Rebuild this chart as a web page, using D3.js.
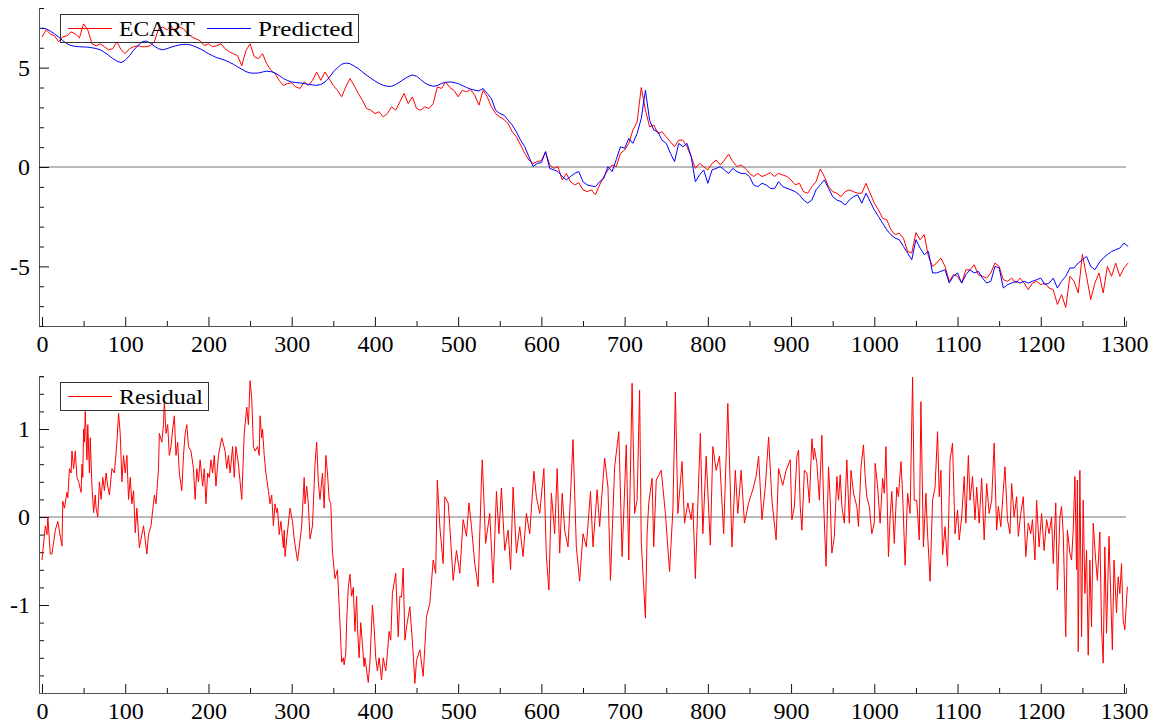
<!DOCTYPE html>
<html>
<head>
<meta charset="utf-8">
<script src="https://cdn.jsdelivr.net/npm/d3@7"></script>
<style>
    body { margin: 0; background: #fff; }
</style>
</head>
<body>
<div id="chart"></div>
<script>
/*
two stacked panels: ECART vs Predicted, and the Residual below
 */

//x positions of the top series (one reading every 5 steps):
var topT = d3.range(0, 1306, 5);

//ECART
var ecart = [
    6.54, 6.9, 6.7, 6.6, 6.3, 6.55, 6.6, 6.8, 6.7, 6.5,
    7.2, 6.9, 6.2, 6.1, 6.2, 6.05, 5.9, 5.95, 6.3, 5.9,
    5.7, 5.95, 6.05, 6.1, 6.05, 6.05, 6.1, 6.3, 6.95, 7.05,
    6.9, 7.1, 6.8, 7.05, 6.95, 6.7, 6.55, 6.45, 6.35, 6.1,
    6.2, 6.05, 6.1, 6.2, 5.95, 5.8, 5.7, 5.6, 5.1, 5.85,
    6.2, 5.55, 5.45, 5.7, 5.2, 4.87, 4.7, 4.36, 4.1, 4.2,
    4.23, 4.03, 3.95, 4.28, 4.1, 4.36, 4.78, 4.36, 4.78, 4.45,
    4.1, 3.86, 3.53, 4.03, 4.45, 4.1, 3.7, 3.36, 2.94, 2.86,
    2.69, 2.78, 2.52, 2.69, 3.03, 2.86, 3.28, 3.7, 3.19, 3.53,
    2.94, 2.86, 3.03, 2.94, 3.19, 4.03, 3.95, 4.28, 4.0, 3.86,
    3.53, 3.86, 3.78, 3.9, 3.61, 3.11, 3.86, 3.53, 3.03, 2.69,
    2.52, 2.39, 2.19, 1.77, 1.52, 1.1, 0.69, 0.35, 0.18, 0.27,
    0.32, 0.77, 0.1, -0.07, 0.02, -0.65, -0.32, -0.74, -0.9, -0.79,
    -1.15, -1.24, -1.15, -1.4, -0.9, -0.48, -0.15, 0.1, 0.02, 0.69,
    0.85, 1.19, 1.86, 2.27, 4.0, 2.86, 2.02, 2.11, 1.69, 1.77,
    1.52, 1.27, 1.02, 1.35, 1.35, 1.02, 0.52, -0.07, 0.18, 0.02,
    -0.15, 0.18, 0.35, 0.1, 0.35, 0.65, 0.27, 0.02, 0.1, -0.07,
    -0.32, -0.48, -0.32, -0.48, -0.4, -0.28, -0.48, -0.32, -0.4, -0.48,
    -0.65, -0.9, -0.82, -1.24, -1.32, -0.99, -0.74, -0.1, -0.48, -0.99,
    -1.24, -1.32, -1.49, -1.24, -1.15, -1.24, -1.32, -1.32, -0.82, -1.32,
    -1.82, -2.16, -2.58, -2.66, -3.16, -3.41, -3.33, -3.58, -4.25, -4.33,
    -3.3, -3.66, -3.4, -4.5, -5.0, -4.83, -4.58, -5.0, -5.75, -5.42,
    -5.5, -5.84, -5.17, -5.17, -4.92, -5.42, -5.5, -5.59, -5.33, -4.83,
    -5.0, -5.67, -5.75, -5.59, -5.84, -5.59, -5.84, -6.17, -5.84, -5.75,
    -5.92, -5.84, -6.09, -6.17, -6.92, -6.42, -7.07, -5.5, -5.75, -6.34,
    -4.4, -5.5, -6.67, -5.84, -5.33, -6.34, -5.0, -5.5, -4.83, -5.5,
    -5.08, -4.83
];

//Predicted, same x positions
var predicted = [
    6.99, 6.95, 6.84, 6.7, 6.54, 6.36, 6.2, 6.11, 6.07, 6.05,
    6.04, 6.03, 6.0, 5.96, 5.9, 5.77, 5.62, 5.46, 5.33, 5.25,
    5.37, 5.6, 5.87, 6.1, 6.29, 6.34, 6.24, 6.08, 5.95, 5.9,
    5.95, 6.03, 6.09, 6.14, 6.17, 6.17, 6.12, 6.04, 5.95, 5.83,
    5.7, 5.6, 5.5, 5.44, 5.37, 5.27, 5.17, 5.04, 4.92, 4.8,
    4.73, 4.72, 4.73, 4.78, 4.82, 4.8, 4.73, 4.6, 4.45, 4.35,
    4.28, 4.25, 4.23, 4.2, 4.16, 4.13, 4.11, 4.15, 4.28, 4.5,
    4.78, 5.0, 5.17, 5.23, 5.2, 5.08, 4.95, 4.78, 4.62, 4.47,
    4.33, 4.2, 4.11, 4.06, 4.06, 4.15, 4.28, 4.42, 4.55, 4.63,
    4.57, 4.4, 4.23, 4.12, 4.06, 4.1, 4.2, 4.26, 4.28, 4.25,
    4.2, 4.1, 4.0, 3.92, 3.86, 3.83, 3.95, 3.7, 3.44, 2.86,
    2.69, 2.61, 2.36, 2.11, 1.77, 1.35, 1.02, 0.52, 0.02, 0.18,
    0.22, 0.77, -0.07, -0.15, -0.23, -0.48, -0.65, -0.48, -0.32, -0.23,
    -0.74, -0.9, -0.95, -0.99, -0.74, -0.57, 0.02, -0.23, 0.38, 1.02,
    0.94, 1.44, 1.19, 1.69, 2.44, 3.86, 2.36, 1.86, 1.77, 1.35,
    1.19, 0.69, 0.27, 1.19, 1.02, 1.19, 0.52, -0.74, -0.4, -0.15,
    -0.82, -0.15, -0.07, 0.02, -0.15, -0.32, -0.07, -0.23, -0.32, -0.32,
    -0.48, -0.9, -0.99, -0.82, -0.9, -1.07, -1.1, -0.74, -0.99, -1.07,
    -1.15, -1.24, -1.4, -1.66, -1.82, -1.66, -1.15, -0.9, -0.65, -1.07,
    -1.49, -1.66, -1.74, -1.91, -1.66, -1.49, -1.4, -1.82, -1.32, -1.74,
    -2.16, -2.49, -2.83, -3.16, -3.41, -3.58, -3.66, -4.0, -4.33, -4.67,
    -3.66, -4.08, -4.41, -4.25, -5.33, -5.33, -5.25, -5.17, -5.84, -5.5,
    -5.33, -5.84, -5.42, -5.17, -5.33, -5.25, -5.59, -5.84, -5.75, -5.0,
    -5.08, -6.09, -5.92, -5.84, -5.75, -5.84, -5.75, -5.84, -5.75, -5.67,
    -5.59, -5.92, -5.84, -5.59, -6.09, -5.75, -5.5, -5.08, -5.08, -4.83,
    -4.67, -4.5, -5.0, -5.17, -4.83, -4.58, -4.41, -4.25, -4.16, -4.08,
    -3.83, -4.0
];

//Residual: read at its turning points, so x positions are listed too
var resT = [
    0, 4, 6, 7, 10, 12, 16, 19, 22, 24, 25, 27, 30, 31, 33, 35, 36, 38, 40, 42,
    44, 47, 48, 49, 50, 51, 52, 54, 55, 57, 58, 60, 62, 64, 65, 67, 69, 71, 73, 75,
    77, 79, 81, 84, 87, 90, 92, 94, 96, 98, 100, 102, 104, 106, 108, 110, 112, 114, 117, 120,
    122, 126, 128, 131, 135, 137, 140, 141, 144, 146, 147, 149, 151, 153, 155, 157, 159, 161, 163, 165,
    168, 170, 172, 174, 176, 179, 182, 184, 186, 188, 190, 193, 195, 197, 199, 201, 203, 205, 207, 209,
    212, 216, 220, 222, 224, 226, 229, 231, 233, 236, 240, 243, 246, 248, 250, 252, 254, 256, 259, 261,
    262, 264, 265, 267, 269, 272, 274, 276, 278, 280, 282, 283, 285, 287, 290, 291, 292, 294, 298, 301,
    303, 307, 309, 312, 315, 316, 318, 320, 322, 325, 328, 330, 332, 334, 337, 339, 341, 343, 345, 347,
    349, 352, 355, 358, 360, 362, 363, 365, 366, 368, 370, 372, 374, 376, 378, 379, 381, 383, 385, 387,
    388, 392, 394, 397, 399, 401, 403, 405, 408, 410, 413, 415, 417, 419, 421, 425, 428, 430, 432, 434,
    436, 438, 442, 446, 448, 450, 454, 458, 462, 466, 470, 473, 475, 478, 482, 484, 488, 490, 494, 498,
    502, 506, 510, 513, 516, 520, 524, 528, 529, 533, 538, 542, 546, 549, 552, 556, 560, 563, 566, 570,
    574, 578, 582, 586, 591, 594, 598, 603, 606, 609, 612, 616, 619, 622, 625, 628, 632, 635, 638, 642,
    646, 650, 654, 659, 662, 667, 670, 672, 676, 680, 683, 688, 693, 697, 702, 705, 709, 712, 715, 718,
    720, 725, 727, 729, 733, 735, 738, 744, 749, 754, 758, 761, 764, 769, 772, 776, 780, 782, 785, 788,
    791, 794, 798, 803, 806, 810, 814, 819, 824, 829, 833, 836, 840, 844, 849, 854, 858, 861, 865, 869,
    873, 877, 882, 885, 890, 894, 899, 901, 904, 907, 909, 911, 913, 916, 919, 922, 925, 927, 928, 931,
    934, 937, 939, 942, 945, 947, 949, 952, 955, 957, 959, 961, 964, 967, 970, 972, 975, 979, 981, 984,
    987, 989, 991, 994, 997, 1000, 1001, 1004, 1007, 1010, 1012, 1014, 1017, 1019, 1021, 1024, 1027, 1029, 1032, 1034,
    1037, 1040, 1043, 1046, 1048, 1051, 1054, 1056, 1059, 1062, 1064, 1067, 1070, 1073, 1076, 1078, 1080, 1082, 1085, 1088,
    1091, 1094, 1097, 1100, 1102, 1105, 1108, 1110, 1113, 1115, 1118, 1121, 1123, 1126, 1129, 1132, 1135, 1138, 1141, 1144,
    1147, 1149, 1152, 1155, 1157, 1160, 1163, 1165, 1168, 1171, 1173, 1176, 1179, 1182, 1185, 1188, 1190, 1193, 1195, 1198,
    1201, 1204, 1207, 1210, 1213, 1215, 1218, 1220, 1223, 1225, 1227, 1230, 1232, 1235, 1237, 1239, 1241, 1243, 1244, 1245,
    1247, 1249, 1251, 1253, 1255, 1257, 1259, 1261, 1263, 1266, 1268, 1271, 1273, 1275, 1277, 1279, 1282, 1284, 1286, 1288,
    1291, 1293, 1295, 1297, 1299, 1301, 1304
];
var residual = [
    -0.49, -0.1, -0.2, 0, -0.42, -0.42, -0.15, -0.05, -0.22, -0.33, 0.18, 0.1, 0.28, 0.22, 0.55, 0.5, 0.75, 0.55, 0.75, 0.45,
    0.4, 0.28, 0.6, 0.45, 1.0, 0.85, 1.2, 0.65, 1.05, 0.5, 0.9, 0.35, 0.05, 0.25, 0.1, 0.0, 0.4, 0.2, 0.45, 0.3,
    0.5, 0.35, 0.25, 0.55, 0.5, 0.85, 1.18, 0.95, 0.4, 0.7, 0.5, 0.7, 0.2, 0.45, 0.15, 0.3, -0.18, 0.1, -0.35, -0.2,
    -0.1, -0.42, -0.2, -0.1, 0.25, 0.15, 0.55, 0.95, 0.85, 1.05, 1.32, 0.95, 1.05, 0.7, 0.8, 1.0, 1.15, 0.7, 0.85, 0.5,
    0.3, 0.7, 0.95, 1.05, 0.8, 0.75, 0.55, 0.2, 0.55, 0.4, 0.65, 0.35, 0.55, 0.15, 0.5, 0.45, 0.65, 0.5, 0.7, 0.35,
    0.7, 0.9, 0.75, 0.55, 0.7, 0.5, 0.8, 0.45, 0.8, 0.6, 0.2, 0.95, 1.25, 1.05, 1.55, 1.35, 0.8, 0.75, 0.8, 0.7,
    1.15, 0.9, 1.0, 0.7, 0.5, 0.3, 0.15, 0.25, -0.1, 0.15, 0.05, 0.1, -0.2, -0.05, -0.35, -0.15, -0.45, -0.25, 0.1, -0.05,
    -0.25, -0.5, -0.35, -0.1, 0.45, 0.15, 0.35, 0.15, -0.25, -0.1, 0.6, 0.85, 0.4, 0.2, 0.5, 0.1, 0.7, 0.5, 0.2, 0.15,
    -0.4, -0.7, -0.6, -1.2, -1.65, -1.6, -1.68, -1.55, -1.2, -0.8, -0.65, -0.9, -0.8, -1.3, -0.9, -1.25, -1.6, -1.2, -1.45, -1.7,
    -1.6, -1.88, -1.65, -1.0, -1.25, -1.6, -1.75, -1.6, -1.85, -1.6, -1.75, -1.55, -1.3, -1.4, -0.87, -0.64, -1.36, -0.9, -0.91, -0.58,
    -1.4, -1.25, -1.02, -1.55, -1.89, -1.63, -1.51, -1.81, -1.13, -0.98, -0.49, -0.64, 0.42, -0.11, -0.53, 0.23, 0.16, -0.11, -0.72, -0.38,
    -0.64, -0.03, -0.22, 0.16, -0.11, -0.53, -0.79, 0.42, 0.65, -0.3, 0.04, -0.75, 0.29, -0.19, 0.33, -0.38, -0.15, -0.6, 0.34, -0.41,
    -0.11, -0.45, 0.04, -0.19, 0.52, 0.23, 0.04, 0.55, -0.45, -0.83, 0.27, -0.19, 0.55, -0.41, 0.27, -0.15, -0.34, 0.25, 0.88, -0.34,
    -0.73, -0.19, -0.34, 0.29, -0.34, 0.31, -0.11, 0.16, 0.67, 0.34, -0.72, 0.57, 0.97, -0.45, 0.82, -0.49, 1.52, 0.04, 0.19, 1.44,
    -0.28, -1.15, -0.19, 0.16, 0.44, -0.34, 0.42, 0.53, 0.04, -0.62, 0.08, 1.42, 0.04, 0.63, -0.07, 0.16, -0.03, 0.16, -0.7, 0.16,
    0.95, -0.19, 0.69, -0.32, 0.8, 0.53, 0.69, -0.19, 1.29, -0.34, 0.53, 0.04, 0.53, -0.07, 0.16, 0.31, 0.46, 0.69, -0.03, 0.34,
    0.91, 0.19, -0.26, 0.55, 0.36, 0.53, 0.65, -0.03, 0.12, 0.69, 0.76, 0.12, -0.15, 0.53, 0.5, 0.16, 0.89, 0.65, 0.78, 0.61,
    0.19, 0.93, 0.19, -0.56, 0.57, 0.19, -0.41, -0.22, 0.46, 0.19, 0.48, 0.12, -0.07, 0.65, -0.07, 0.53, 0.27, 0.12, -0.11, 0.57,
    0.82, 0.46, 0.23, 0.12, -0.19, -0.07, 0.61, 0.34, -0.07, 0.44, 0.27, 0.8, -0.45, 0.0, 0.29, -0.3, 0.34, 0.23, 0.63, 0.27,
    -0.55, 0.27, 0.04, 1.59, 0.19, 0.19, -0.26, 1.31, -0.34, 0.27, -0.19, -0.73, 0.19, 0.34, 0.97, 0.23, 0.53, -0.43, -0.11, -0.56,
    0.65, 0.84, -0.19, 0.08, -0.26, 0.0, 0.46, -0.07, 0.7, 0.19, 0.46, -0.03, 0.34, -0.07, 0.44, -0.26, 0.38, 0.04, 0.19, 0.84,
    -0.15, 0.12, -0.11, 0.31, 0.57, -0.03, -0.19, 0.38, 0.0, 0.23, -0.22, 0.04, 0.23, -0.45, -0.07, -0.19, -0.03, -0.49, 0.19, -0.34,
    0.04, -0.38, -0.03, -0.19, 0.0, -0.53, 0.16, -0.83, 0.0, 0.12, -0.19, -1.36, -0.15, -0.41, -0.49, -0.15, 0.46, -0.6, 0.42, -1.53,
    0.53, -1.36, 0.19, -0.87, -0.38, -1.57, -0.49, -1.25, -0.07, -0.49, -0.72, -0.17, -1.25, -1.66, -0.34, -1.32, -0.22, -0.87, -1.51, -0.49,
    -1.09, -0.68, -0.87, -0.53, -1.17, -1.28, -0.79
];

//tick values
var xMajor = d3.range(0, 1301, 100);
var xMinor = d3.range(50, 1300, 100);
var topMajor = [-5, 0, 5];
var topMinor = [-8, -7, -6, -4, -3, -2, -1, 1, 2, 3, 4, 6, 7, 8];
var resMajor = [-1, 0, 1];
var resMinor = [-1.8, -1.6, -1.4, -1.2, -0.8, -0.6, -0.4, -0.2, 0.2, 0.4, 0.6, 0.8, 1.2, 1.4, 1.6];

var axisColor = "#555";
var fontFamily = "'Liberation Serif', 'Times New Roman', serif";

var svg = d3.select("#chart")
    .append("svg")
    .attr("width", 1160)
    .attr("height", 725);

//shared x scale
var xScale = d3.scaleLinear().domain([-3.6, 1302.4]).range([39, 1126]);

//plain hyphen for negatives, like the original
function fmt(d) {
    return String(d);
}

function styleAxis(g) {
    g.attr("font-family", fontFamily).attr("font-size", 24);
    g.select(".domain").attr("stroke", axisColor);
    g.selectAll(".tick line").attr("stroke", "#111");
    g.selectAll(".tick text").attr("fill", "#000");
}

function drawPanel(yScale, yMajor, yMinor, series, legend) {
    var bottom = yScale.range()[0];
    var panel = svg.append("g");

    //zero line
    panel.append("line")
        .attr("x1", xScale.range()[0])
        .attr("x2", xScale.range()[1])
        .attr("y1", yScale(0))
        .attr("y2", yScale(0))
        .attr("stroke", "#777")
        .attr("stroke-width", 1);

    //minor ticks first, then major ones with labels
    panel.append("g")
        .attr("transform", "translate(0," + bottom + ")")
        .call(d3.axisBottom(xScale).tickValues(xMinor).tickSize(-5).tickFormat(""))
        .call(styleAxis);
    panel.append("g")
        .attr("transform", "translate(0," + bottom + ")")
        .call(d3.axisBottom(xScale).tickValues(xMajor).tickSizeInner(-9).tickSizeOuter(0)
            .tickPadding(9).tickFormat(fmt))
        .call(styleAxis);

    panel.append("g")
        .attr("transform", "translate(" + xScale.range()[0] + ",0)")
        .call(d3.axisLeft(yScale).tickValues(yMinor).tickSize(-5).tickFormat(""))
        .call(styleAxis);
    panel.append("g")
        .attr("transform", "translate(" + xScale.range()[0] + ",0)")
        .call(d3.axisLeft(yScale).tickValues(yMajor).tickSizeInner(-10).tickSizeOuter(0)
            .tickPadding(9).tickFormat(fmt))
        .call(styleAxis);

    //series
    series.forEach(function (s) {
        var line = d3.line()
            .x(function (d) { return xScale(d[0]); })
            .y(function (d) { return yScale(d[1]); });
        panel.append("path")
            .datum(d3.zip(s.x, s.y))
            .attr("d", line)
            .attr("fill", "none")
            .attr("stroke", s.color)
            .attr("stroke-width", 1)
            .attr("stroke-linejoin", "round");
    });

    //legend box (no fill, the lines show through)
    var lg = panel.append("g").attr("transform", "translate(60," + legend.top + ")");
    lg.append("rect")
        .attr("x", 0.5).attr("y", 0.5)
        .attr("width", legend.width).attr("height", 28)
        .attr("fill", "none")
        .attr("stroke", "#333");
    series.forEach(function (s, i) {
        var x0 = legend.offsets[i];
        lg.append("line")
            .attr("x1", x0 + 8).attr("x2", x0 + 52)
            .attr("y1", 14.5).attr("y2", 14.5)
            .attr("stroke", s.color);
        lg.append("text")
            .attr("x", x0 + 59).attr("y", 22)
            .attr("font-family", fontFamily)
            .attr("font-size", 22)
            .attr("textLength", s.textWidth)
            .attr("lengthAdjust", "spacingAndGlyphs")
            .text(s.name);
    });
}

//top panel
var yTop = d3.scaleLinear().domain([-8, 8]).range([326, 8]);
drawPanel(yTop, topMajor, topMinor, [
    {name: "ECART", x: topT, y: ecart, color: "#ff0000", textWidth: 76},
    {name: "Predicted", x: topT, y: predicted, color: "#0000ff", textWidth: 95}
], {top: 14, width: 298, offsets: [0, 139]});

//bottom panel
var yRes = d3.scaleLinear().domain([-2, 1.6]).range([693, 376.2]);
drawPanel(yRes, resMajor, resMinor, [
    {name: "Residual", x: resT, y: residual, color: "#ff0000", textWidth: 84}
], {top: 382, width: 148, offsets: [0]});
</script>
</body>
</html>
